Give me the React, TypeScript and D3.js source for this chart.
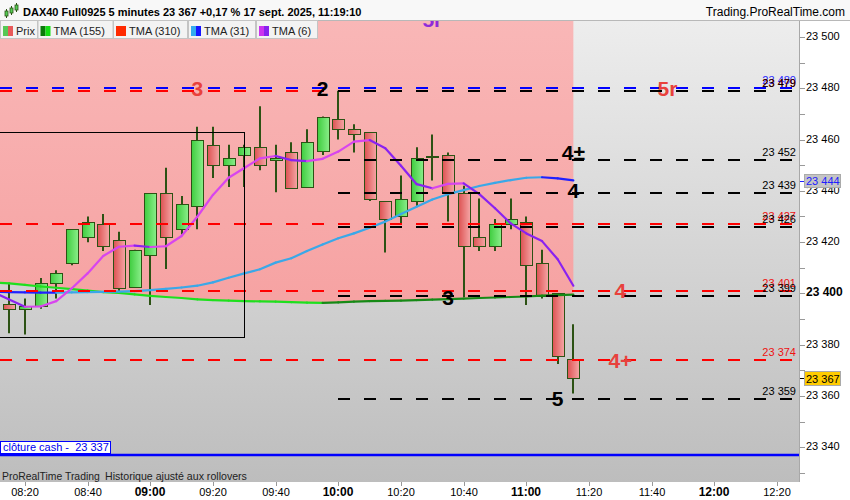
import React from "react";
import * as d3 from "d3";

// ---------- DATA ----------
const candleTimes = [
  "08:15", "08:20", "08:25", "08:30", "08:35", "08:40", "08:45", "08:50", "08:55",
  "09:00", "09:05", "09:10", "09:15", "09:20", "09:25", "09:30", "09:35", "09:40", "09:45", "09:50", "09:55",
  "10:00", "10:05", "10:10", "10:15", "10:20", "10:25", "10:30", "10:35", "10:40", "10:45", "10:50", "10:55",
  "11:00", "11:05", "11:10", "11:15",
];
const opens = [23396, 23394, 23395, 23404, 23412, 23422, 23427, 23421, 23402.5, 23415, 23439, 23425, 23434, 23458, 23450, 23454, 23457, 23452, 23455, 23441.5, 23455.5, 23468, 23464, 23463, 23436, 23430, 23436, 23453.5, 23454, 23439, 23422, 23418.5, 23427, 23428, 23412, 23400, 23374.5];
const closes = [23394, 23395, 23404, 23408, 23425, 23428, 23418.5, 23402, 23417, 23439, 23422, 23435, 23460, 23450, 23453, 23457, 23450, 23453, 23441, 23459, 23469, 23464, 23462, 23437, 23429, 23437, 23453, 23453.5, 23439, 23418.5, 23418.5, 23427, 23429, 23411, 23399, 23375.5, 23367];
const highs = [23404, 23398, 23406, 23409, 23425, 23430, 23431, 23424, 23417, 23439, 23449, 23438, 23465, 23465, 23458, 23458, 23473, 23458, 23459, 23464, 23469, 23479, 23466, 23463, 23436, 23446, 23457, 23462, 23455, 23442, 23437, 23429, 23437, 23430, 23417, 23400, 23388];
const lows = [23384.5, 23384, 23394, 23398, 23411, 23420, 23416.5, 23400.5, 23402.5, 23395.5, 23409.5, 23423, 23425, 23445, 23441.5, 23441.5, 23448, 23439.5, 23441, 23441.5, 23454, 23460, 23455, 23436, 23416, 23427, 23434, 23444, 23428, 23398.5, 23416.5, 23416.5, 23425, 23395.5, 23398, 23372.5, 23361];

const maTimes = ["08:10", ...candleTimes];
const tma6 = [23400.5, 23397.6, 23394.8, 23394.9, 23397.0, 23402.0, 23407.8, 23414.6, 23418.2, 23418.6, 23418.1, 23418.4, 23422.4, 23429.9, 23438.4, 23445.1, 23448.9, 23452.7, 23453.6, 23452.0, 23451.6, 23452.5, 23455.3, 23459.2, 23459.8, 23456.6, 23449.8, 23442.6, 23441.0, 23442.7, 23442.9, 23438.7, 23433.2, 23427.3, 23423.4, 23420.4, 23413.3, 23403.0];
const tma31 = [23400.6, 23400.5, 23400.4, 23400.3, 23400.3, 23400.4, 23400.5, 23400.6, 23400.7, 23400.9, 23401.3, 23401.8, 23402.3, 23403.0, 23404.3, 23406.1, 23407.8, 23409.4, 23412.0, 23413.7, 23416.5, 23419.1, 23421.5, 23423.4, 23425.6, 23428.0, 23431.0, 23433.8, 23436.6, 23438.7, 23440.3, 23441.9, 23443.1, 23444.2, 23445.1, 23445.3, 23444.9, 23444.1];
const tma155 = [23404.3, 23403.9, 23403.3, 23402.7, 23402.2, 23401.7, 23401.1, 23400.5, 23400.2, 23399.6, 23399.0, 23398.6, 23398.2, 23397.7, 23397.4, 23397.2, 23397.0, 23396.9, 23396.8, 23396.6, 23396.4, 23396.3, 23396.5, 23396.8, 23397.0, 23397.1, 23397.2, 23397.4, 23397.6, 23397.8, 23398.0, 23398.2, 23398.4, 23398.6, 23398.8, 23399.1, 23399.3, 23399.5];

const blueLevels = [23480];
const redLevels = [23479, 23427, 23401, 23374];
const blackLevels = [23479, 23452, 23439, 23426, 23399, 23359];
const blackLevelStart = "10:00";
const cashClose = 23337;

const annoTexts = ["3", "2", "5r", "5r", "4±", "4", "3", "4", "4+", "5"];
const annoTimes = ["09:15", "09:55", "10:30", "11:45", "11:15", "11:15", "10:35", "11:30", "11:30", "11:10"];
const annoPrices = [23480, 23480, 23507, 23480, 23455, 23440, 23398.5, 23401, 23374, 23359];
const annoKinds = ["red", "black", "purple", "red", "black", "black", "black", "red", "red", "black"];

const boxTimes = ["08:00", "09:30"];
const boxPrices = [23463, 23383];

const xTicks = ["08:20", "08:40", "09:00", "09:20", "09:40", "10:00", "10:20", "10:40", "11:00", "11:20", "11:40", "12:00", "12:20"];
const yTickLabels = [23340, 23360, 23380, 23400, 23420, 23440, 23460, 23480, 23500];
const yMinorTicks = [23330, 23350, 23370, 23390, 23410, 23430, 23450, 23470, 23490];
const lastPrice = 23367;
const tma31Last = 23444;

const titleText = "DAX40 Full0925 5 minutes 23 367 +0,17 % 17 sept. 2025, 11:19:10";
const legendLabels = ["Prix", "TMA (155)", "TMA (310)", "TMA (31)", "TMA (6)"];

// ---------- STYLE ----------
const FONT = "'Liberation Sans', Arial, Helvetica, sans-serif";
const KIND_COLORS: Record<string, string> = { red: "#e8413c", black: "#000000", purple: "#8e2bd9" };
const legendBoxes = [[0, 37], [37.5, 112.5], [113, 187], [188, 255], [256, 317]];
const legendSwatches = [["#55c855", "#e85a5a"], ["#0a7a0a", "#14dd14"], ["#ff2a00", "#ff2a00"], ["#33aaee", "#1515ff"], ["#cc33ee", "#8822ee"]];

const tm = (s: string) => {
  const [h, m] = s.split(":").map(Number);
  return h * 60 + m;
};

export default function App() {
  const PT = 21, PB = 482, PR = 800;
  const x = d3.scaleLinear().domain([600, 720]).range([338.3, 714.4]);
  const y = d3.scaleLinear().domain([23400, 23480]).range([293.4, 88.3]);
  const fmt = d3.formatLocale({ decimal: ",", thousands: " ", grouping: [3], currency: ["", ""] }).format(",.0f");

  const area = d3.area<number>()
    .x((_, i) => x(tm(maTimes[i])))
    .y0(PT)
    .y1((d) => y(d));

  const segs = (vals: number[], up: string, down: string) => {
    const out: JSX.Element[] = [];
    for (let i = 1; i < vals.length; i++) {
      out.push(
        <line key={i} x1={x(tm(maTimes[i - 1]))} y1={y(vals[i - 1])} x2={x(tm(maTimes[i]))} y2={y(vals[i])}
          stroke={vals[i] > vals[i - 1] ? up : down} strokeWidth={2.2} strokeLinecap="round" />
      );
    }
    return out;
  };

  const dashLine = (p: number, x1: number, color: string, key: string) => {
    const yy = Math.round(y(p));
    return <line key={key} x1={x1} x2={PR} y1={yy} y2={yy} stroke={color} strokeWidth={2}
      strokeDasharray="12 14" strokeDashoffset={x1 % 26} />;
  };

  const valueLabel = (p: number, color: string, key: string) => (
    <text key={key} x={796} y={Math.round(y(p)) - 4} textAnchor="end" fontSize={11} fill={color} fontFamily={FONT}>{fmt(p)}</text>
  );

  const blackStartX = Math.round(x(tm(blackLevelStart)));

  return (
    <svg width={850} height={500} style={{ position: "fixed", left: 0, top: 0, background: "#fff" }} fontFamily={FONT}>
      <defs>
        <linearGradient id="bgGrey" x1="0" y1={PT} x2="0" y2={PB} gradientUnits="userSpaceOnUse">
          <stop offset="0" stopColor="#ededed" />
          <stop offset="1" stopColor="#bdbdbd" />
        </linearGradient>
        <linearGradient id="bgPink" x1="0" y1={PT} x2="0" y2={310} gradientUnits="userSpaceOnUse">
          <stop offset="0" stopColor="#f9b7b7" />
          <stop offset="1" stopColor="#f6a2a2" />
        </linearGradient>
        <linearGradient id="gG" x1="0" y1="0" x2="1" y2="0">
          <stop offset="0" stopColor="#3fcd3f" />
          <stop offset="1" stopColor="#8aee8a" />
        </linearGradient>
        <linearGradient id="gR" x1="0" y1="0" x2="1" y2="0">
          <stop offset="0" stopColor="#dd5252" />
          <stop offset="1" stopColor="#f5a6a6" />
        </linearGradient>
        <clipPath id="plotClip">
          <rect x={0} y={PT} width={PR} height={PB - PT} />
        </clipPath>
      </defs>

      <g clipPath="url(#plotClip)">
        <rect x={0} y={PT} width={PR} height={PB - PT} fill="url(#bgGrey)" />
        <path d={area(tma155) || ""} fill="url(#bgPink)" />

        {/* candles */}
        {candleTimes.map((t, i) => {
          const cx = Math.round(x(tm(t)));
          const o = opens[i], c = closes[i];
          const up = c >= o;
          const top = Math.round(y(Math.max(o, c))) + 0.5;
          const bot = Math.round(y(Math.min(o, c))) + 0.5;
          return (
            <g key={t}>
              <line x1={cx} x2={cx} y1={y(highs[i])} y2={y(lows[i])} stroke="#2c5214" strokeWidth={2} />
              <rect x={cx - 5.5} y={top} width={12} height={Math.max(bot - top, 1)} fill={up ? "url(#gG)" : "url(#gR)"} stroke="#2c5214" strokeWidth={1} />
            </g>
          );
        })}

        {/* moving averages */}
        <g>{segs(tma155, "#168a16", "#1ee01e")}</g>
        <g>{segs(tma31, "#3aa8e8", "#2020ff")}</g>
        <g>{segs(tma6, "#d845ee", "#8a22f0")}</g>

        {/* levels */}
        {blueLevels.map((p, i) => dashLine(p, 0, "#0000ff", "b" + i))}
        {redLevels.map((p, i) => dashLine(p, 0, "#ff0000", "r" + i))}
        {blackLevels.map((p, i) => dashLine(p, blackStartX, "#000000", "k" + i))}

        {blueLevels.map((p, i) => valueLabel(p, "#2a2aff", "bl" + i))}
        {redLevels.map((p, i) => valueLabel(p, "#ee1111", "rl" + i))}
        {blackLevels.map((p, i) => valueLabel(p, "#000000", "kl" + i))}

        {/* cash close */}
        <line x1={0} x2={PR} y1={Math.round(y(cashClose))} y2={Math.round(y(cashClose))} stroke="#0000ff" strokeWidth={2.5} />
        <rect x={0.5} y={Math.round(y(cashClose)) - 13.5} width={110} height={12} fill="#fff" stroke="#0000ff" strokeWidth={1} />
        <text x={3} y={Math.round(y(cashClose)) - 4} fontSize={11} fill="#0000ee" style={{ whiteSpace: "pre" }}>{"clôture cash -  23 337"}</text>

        {/* annotations */}
        {annoTexts.map((s, i) => (
          <text key={"a" + i} x={x(tm(annoTimes[i]))} y={y(annoPrices[i]) + 7.5} textAnchor="middle" fontSize={21} fontWeight="bold" fill={KIND_COLORS[annoKinds[i]]}>{s}</text>
        ))}

        {/* box */}
        <rect x={Math.round(x(tm(boxTimes[0]))) + 0.5} y={Math.round(y(boxPrices[0])) + 0.5}
          width={Math.round(x(tm(boxTimes[1]))) - Math.round(x(tm(boxTimes[0])))}
          height={Math.round(y(boxPrices[1])) - Math.round(y(boxPrices[0]))}
          fill="none" stroke="#000" strokeWidth={1} />

        <text x={2} y={480} fontSize={10.4} fill="#222">ProRealTime Trading</text>
        <text x={105} y={480} fontSize={10.6} fill="#222">Historique ajusté aux rollovers</text>
      </g>

      {/* right axis */}
      <rect x={PR} y={PT} width={850 - PR} height={500 - PT} fill="#fff" />
      <rect x={0} y={PB} width={850} height={500 - PB} fill="#fff" />
      <line x1={PR - 0.5} x2={PR - 0.5} y1={PT} y2={PB} stroke="#a8a8a8" strokeWidth={1} />
      {yMinorTicks.map((p) => (
        <line key={"m" + p} x1={PR} x2={PR + 5} y1={Math.round(y(p)) + 0.5} y2={Math.round(y(p)) + 0.5} stroke="#999" />
      ))}
      {yTickLabels.map((p) => (
        <g key={"t" + p}>
          <line x1={PR} x2={PR + 5} y1={Math.round(y(p)) + 0.5} y2={Math.round(y(p)) + 0.5} stroke="#999" />
          <text x={806} y={Math.round(y(p)) + 3} fontSize={p === 23400 ? 12 : 11} fontWeight={p === 23400 ? "bold" : "normal"} fill="#000">{fmt(p)}</text>
        </g>
      ))}
      {/* TMA31 value box */}
      <line x1={PR} x2={PR + 4} y1={Math.round(y(tma31Last)) + 0.5} y2={Math.round(y(tma31Last)) + 0.5} stroke="#2020ff" />
      <rect x={804.5} y={Math.round(y(tma31Last)) - 6.5} width={36} height={13} fill="#c4c4c4" stroke="#aaa" />
      <text x={806} y={Math.round(y(tma31Last)) + 4} fontSize={11} fill="#2020ff">{fmt(tma31Last)}</text>
      {/* last price box */}
      <line x1={PR} x2={PR + 4} y1={Math.round(y(lastPrice)) + 0.5} y2={Math.round(y(lastPrice)) + 0.5} stroke="#000" />
      <rect x={804.5} y={Math.round(y(lastPrice)) - 6.5} width={36} height={14} fill="#ffcc00" stroke="#aaa" />
      <text x={806} y={Math.round(y(lastPrice)) + 4.5} fontSize={11} fill="#000">{fmt(lastPrice)}</text>

      {/* bottom axis */}
      {xTicks.map((t) => {
        const xx = Math.round(x(tm(t)));
        const bold = t.endsWith(":00");
        return (
          <g key={t}>
            <line x1={xx + 0.5} x2={xx + 0.5} y1={PB} y2={PB + 4} stroke="#999" />
            <text x={xx} y={496} textAnchor="middle" fontSize={bold ? 12 : 11} fontWeight={bold ? "bold" : "normal"} fill="#000">{t}</text>
          </g>
        );
      })}

      {/* header */}
      <rect x={0} y={0} width={850} height={PT} fill="#f8f8f8" />
      <line x1={0} x2={850} y1={PT - 0.5} y2={PT - 0.5} stroke="#b8b8b8" />
      <g>
        <line x1={6.5} x2={6.5} y1={9} y2={18} stroke="#2c5214" />
        <rect x={5} y={11} width={3} height={5} fill="#55cc55" stroke="#2c5214" strokeWidth={0.8} />
        <line x1={11.5} x2={11.5} y1={6} y2={15} stroke="#2c5214" />
        <rect x={10} y={8} width={3} height={5} fill="#55cc55" stroke="#2c5214" strokeWidth={0.8} />
        <line x1={16.5} x2={16.5} y1={3} y2={12} stroke="#2c5214" />
        <rect x={15} y={5} width={3} height={5} fill="#55cc55" stroke="#2c5214" strokeWidth={0.8} />
      </g>
      <text x={23} y={16} fontSize={11} fontWeight="bold" fill="#000">{titleText}</text>
      <text x={845} y={16} fontSize={12} textAnchor="end" fill="#000">Trading.ProRealTime.com</text>

      {/* legend */}
      {legendLabels.map((lab, i) => {
        const [a, b] = legendBoxes[i];
        const [c1, c2] = legendSwatches[i];
        return (
          <g key={lab}>
            <rect x={a + 0.5} y={PT - 0.5} width={b - a} height={18} fill="#f3f3f3" stroke="#c4c4c4" />
            <rect x={a + 3} y={26} width={5} height={10} fill={c1} />
            <rect x={a + 8} y={26} width={5} height={10} fill={c2} />
            <text x={a + 16} y={35} fontSize={11} fill="#222">{lab}</text>
          </g>
        );
      })}
    </svg>
  );
}
